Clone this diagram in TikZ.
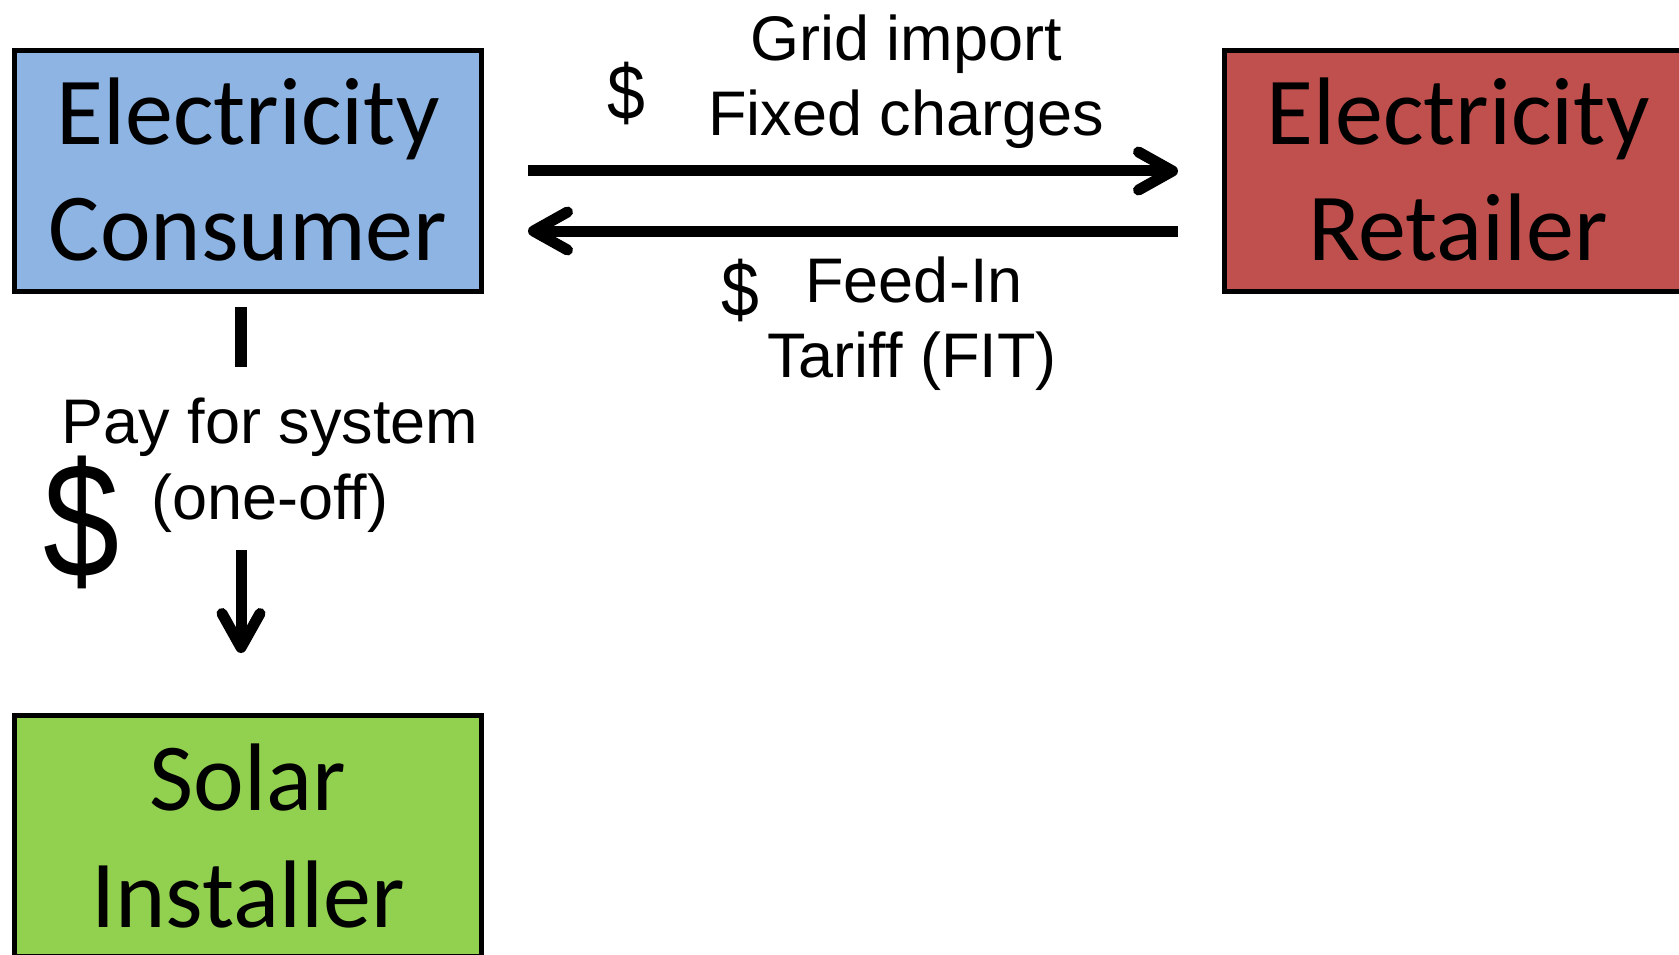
\documentclass[tikz,border=0pt]{standalone}
\usepackage{fontspec}
\usetikzlibrary{arrows.meta}
\newfontfamily\calib{Carlito}
\newfontfamily\arialf{Liberation Sans}
\definecolor{consblue}{HTML}{8EB4E3}
\definecolor{retred}{HTML}{C0504D}
\definecolor{instgreen}{HTML}{92D050}
\tikzset{
  entity/.style={draw=black, line width=5pt, minimum width=467pt, minimum height=241pt, inner sep=0pt, outer sep=0pt},
  boxtext/.style={anchor=base, inner sep=0pt, font=\calib\fontsize{96}{115}\selectfont},
  lbl/.style={anchor=base, inner sep=0pt, font=\arialf\fontsize{63}{75}\selectfont},
  money/.style={anchor=base, inner sep=0pt, yscale=1.14, font=\arialf\fontsize{68}{80}\selectfont},
  bigmoney/.style={anchor=base, inner sep=0pt, xscale=0.9, yscale=1.08, font=\arialf\fontsize{152}{180}\selectfont},
  arr/.style={line width=11pt, -{Straight Barb[length=34pt,width=38pt,round]}},
  seg/.style={line width=12pt}
}
\begin{document}
\begin{tikzpicture}[x=1pt,y=-1pt]
\path[use as bounding box, clip] (0,0) rectangle (1679,955);
\fill[white] (0,0) rectangle (1679,955);
% boxes
\node[entity, fill=consblue] (cons) at (248,171) {};
\node[entity, fill=retred] (ret) at (1458,171) {};
\node[entity, fill=instgreen] (inst) at (248,836) {};
% box texts
\node[boxtext] (consA) at (248,145) {Electricity};
\node[boxtext] (consB) at (248,260) {Consumer};
\node[boxtext] (retA) at (1458,145) {Electricity};
\node[boxtext] (retB) at (1458,260) {Retailer};
\node[boxtext] (instA) at (248,810) {Solar};
\node[boxtext] (instB) at (248,927) {Installer};
% top arrows
\coordinate (a1s) at (528,171);
\coordinate (a1e) at (1178,171);
\coordinate (a2s) at (1178,231);
\coordinate (a2e) at (528,231);
\draw[arr] (a1s) -- (a1e);
\draw[arr] (a2s) -- (a2e);
\node[lbl] (gi) at (906,61) {Grid import};
\node[lbl] (fc) at (906,136) {Fixed charges};
\node[money] (d1) at (626,120) {\$};
\node[lbl] (fi) at (914,302) {Feed-In};
\node[lbl] (tf) at (912,377) {Tariff (FIT)};
\node[money] (d2) at (740,316) {\$};
% vertical connector
\coordinate (v1) at (241,307);
\coordinate (v2) at (241,367);
\coordinate (v3) at (241,550);
\coordinate (v4) at (241,653);
\draw[seg] (v1) -- (v2);
\draw[arr] (v3) -- (v4);
\node[lbl] (pay) at (270,443) {Pay for system};
\node[lbl] (oneoff) at (270,519) {(one-off)};
\node[bigmoney] (d3) at (82,577) {\$};
\end{tikzpicture}
\end{document}
